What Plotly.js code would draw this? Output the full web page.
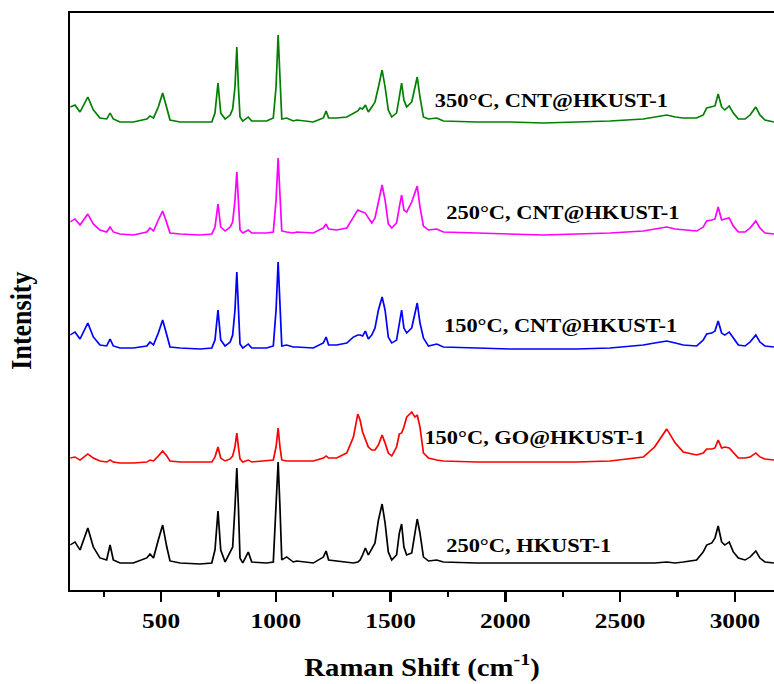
<!DOCTYPE html>
<html>
<head>
<meta charset="utf-8">
<script src="https://cdn.plot.ly/plotly-3.0.1.min.js"></script>
<style>
  html, body { margin: 0; padding: 0; background: #fff; }
  #wrap { width: 774px; height: 684px; overflow: hidden; position: relative; }
  #plot { width: 673px; height: 684px; transform: scaleX(1.15); transform-origin: 0 0; }
</style>
</head>
<body>
<div id="wrap"><div id="plot"></div></div>
<script>
// Raman shift (cm^-1), shared by all spectra
const ramanShift = [
  104, 125, 147, 181, 205, 234, 263, 278, 292, 321,
  379, 438, 452, 467, 488, 507, 525, 539, 583, 670,
  721, 735, 748, 760, 779, 801, 812, 822, 830, 837,
  844, 856, 880, 895, 960, 989, 1001, 1010, 1018, 1026,
  1047, 1076, 1091, 1163, 1207, 1219, 1230, 1265, 1309, 1338,
  1357, 1367, 1378, 1390, 1403, 1418, 1432, 1447, 1463, 1476,
  1490, 1505, 1526, 1538, 1548, 1558, 1570, 1592, 1606, 1616,
  1628, 1643, 1665, 1701, 1730, 1875, 2020, 2165, 2310, 2456,
  2601, 2650, 2703, 2740, 2775, 2833, 2862, 2877, 2899, 2913,
  2927, 2942, 2956, 2975, 2993, 3015, 3044, 3066, 3091, 3109, 3131, 3170
];

// Intensities (a.u., stacked as in the figure)
const cnt350 = [
  483, 485, 478, 493, 480, 472, 471, 477, 471, 468,
  468, 471, 474, 472, 483, 497, 482, 470, 468, 468,
  468, 477, 507, 477, 471, 475, 481, 503, 543, 503,
  473, 469, 473, 469, 469, 472, 503, 555, 503, 471,
  472, 469, 470, 468, 472, 479, 472, 472, 473, 477,
  479, 482, 481, 485, 478, 483, 488, 503, 520, 503,
  480, 473, 477, 493, 507, 490, 483, 488, 503, 513,
  493, 473, 471, 472, 469, 468, 468, 467, 468, 469,
  471, 473, 475, 473, 472, 472, 475, 482, 483, 484,
  496, 483, 480, 484, 477, 471, 471, 475, 483, 475, 470, 468
];
const cnt250 = [
  368, 371, 365, 376, 366, 360, 358, 363, 358, 356,
  355, 358, 362, 359, 370, 379, 367, 357, 356, 355,
  356, 363, 386, 363, 359, 363, 368, 390, 418, 390,
  360, 357, 360, 357, 357, 358, 390, 432, 390, 359,
  358, 357, 358, 357, 362, 366, 361, 360, 362, 373,
  380, 379, 378, 377, 372, 367, 372, 390, 405, 390,
  366, 362, 367, 383, 395, 380, 378, 388, 397, 404,
  383, 364, 360, 361, 358, 357, 356, 355, 356, 357,
  359, 361, 363, 361, 360, 359, 363, 369, 370, 371,
  383, 370, 371, 372, 364, 358, 358, 362, 369, 362, 357, 356
];
const cnt150 = [
  255, 258, 251, 267, 253, 245, 244, 251, 244, 242,
  242, 244, 248, 245, 257, 270, 255, 243, 242, 241,
  242, 250, 280, 250, 244, 248, 255, 280, 318, 280,
  246, 242, 246, 242, 242, 244, 280, 328, 280, 244,
  245, 243, 243, 242, 247, 253, 245, 245, 247, 253,
  255, 255, 254, 259, 251, 255, 262, 280, 293, 280,
  253, 247, 250, 267, 280, 262, 257, 262, 275, 287,
  267, 252, 244, 246, 243, 242, 241, 241, 241, 242,
  245, 247, 249, 247, 245, 244, 250, 256, 257, 259,
  269, 257, 255, 258, 252, 245, 244, 248, 255, 248, 244, 243
];
const go150 = [
  132, 133, 130, 136, 132, 129, 128, 130, 128, 127,
  127, 128, 130, 129, 134, 139, 134, 129, 128, 128,
  128, 133, 143, 132, 129, 131, 134, 143, 157, 143,
  131, 128, 130, 128, 129, 130, 143, 162, 143, 130,
  129, 129, 129, 129, 132, 134, 132, 132, 137, 153,
  176, 170, 158, 150, 143, 140, 140, 145, 155, 147,
  137, 134, 143, 156, 157, 163, 173, 178, 173, 175,
  163, 137, 132, 130, 129, 128, 128, 128, 128, 129,
  133, 143, 161, 147, 138, 135, 137, 141, 141, 142,
  150, 142, 143, 142, 137, 132, 132, 133, 137, 133, 131, 130
];
const hkust250 = [
  45, 48, 40, 62, 43, 32, 30, 45, 30, 27,
  27, 32, 36, 32, 50, 65, 43, 29, 27, 26,
  27, 40, 79, 40, 28, 37, 43, 83, 122, 83,
  32, 27, 38, 28, 27, 28, 83, 128, 83, 30,
  33, 28, 29, 27, 33, 39, 30, 29, 28, 27,
  28, 30, 35, 42, 35, 42, 47, 70, 86, 67,
  38, 30, 35, 57, 66, 43, 35, 37, 60, 71,
  57, 33, 29, 30, 28, 27, 27, 27, 27, 27,
  27, 27, 28, 27, 28, 30, 38, 45, 47, 52,
  64, 48, 45, 48, 38, 32, 30, 33, 39, 32, 28, 27
];

const seriesNames = ["350°C, CNT@HKUST-1", "250°C, CNT@HKUST-1", "150°C, CNT@HKUST-1", "150°C, GO@HKUST-1", "250°C, HKUST-1"];
const seriesValues = [cnt350, cnt250, cnt150, go150, hkust250];
const seriesColors = ["#008000", "#FF00FF", "#0000FF", "#FF0000", "#000000"];
// label anchor positions (Raman shift, intensity)
const labelX = [1680, 1732, 1723, 1636, 1732];
const labelY = [490, 378, 265, 153, 45];

const serif = "'Liberation Serif', 'Times New Roman', serif";

const traces = seriesValues.map((vals, i) => ({
  x: ramanShift,
  y: vals,
  type: "scatter",
  mode: "lines",
  name: seriesNames[i],
  line: { color: seriesColors[i], width: 1.5 },
  hoverinfo: "skip"
}));

const annotations = seriesNames.map((name, i) => ({
  x: labelX[i], y: labelY[i], xref: "x", yref: "y",
  text: name, showarrow: false, xanchor: "left", yanchor: "middle",
  font: { family: serif, size: 19.5, color: "#000", weight: "bold" }
}));
annotations.push({
  x: -0.07, y: 0.467, xref: "paper", yref: "paper",
  text: "Intensity", textangle: -90, showarrow: false,
  xanchor: "center", yanchor: "middle",
  font: { family: serif, size: 26, color: "#000", weight: "bold" }
});

const layout = {
  width: 673, height: 684,
  margin: { l: 61, r: 0, t: 13, b: 94 },
  paper_bgcolor: "#fff", plot_bgcolor: "#fff",
  showlegend: false,
  xaxis: {
    range: [104, 3170],
    showline: true, linewidth: 2, linecolor: "#000", mirror: true,
    ticks: "outside", ticklen: 10, tickwidth: 2, tickcolor: "#000",
    tick0: 0, dtick: 500,
    minor: { ticks: "outside", ticklen: 5, tickwidth: 2, tickcolor: "#000", tick0: 0, dtick: 250, showgrid: false },
    showgrid: false, zeroline: false,
    tickfont: { family: serif, size: 22, color: "#000", weight: "bold" },
    title: { text: "Raman Shift (cm<sup>-1</sup>)", standoff: 26,
             font: { family: serif, size: 25, color: "#000", weight: "bold" } }
  },
  yaxis: {
    range: [0, 577],
    showline: true, linewidth: 2, linecolor: "#000", mirror: false,
    ticks: "", showticklabels: false, showgrid: false, zeroline: false
  },
  annotations: annotations
};

Plotly.newPlot("plot", traces, layout, { displayModeBar: false, staticPlot: true });
</script>
</body>
</html>
